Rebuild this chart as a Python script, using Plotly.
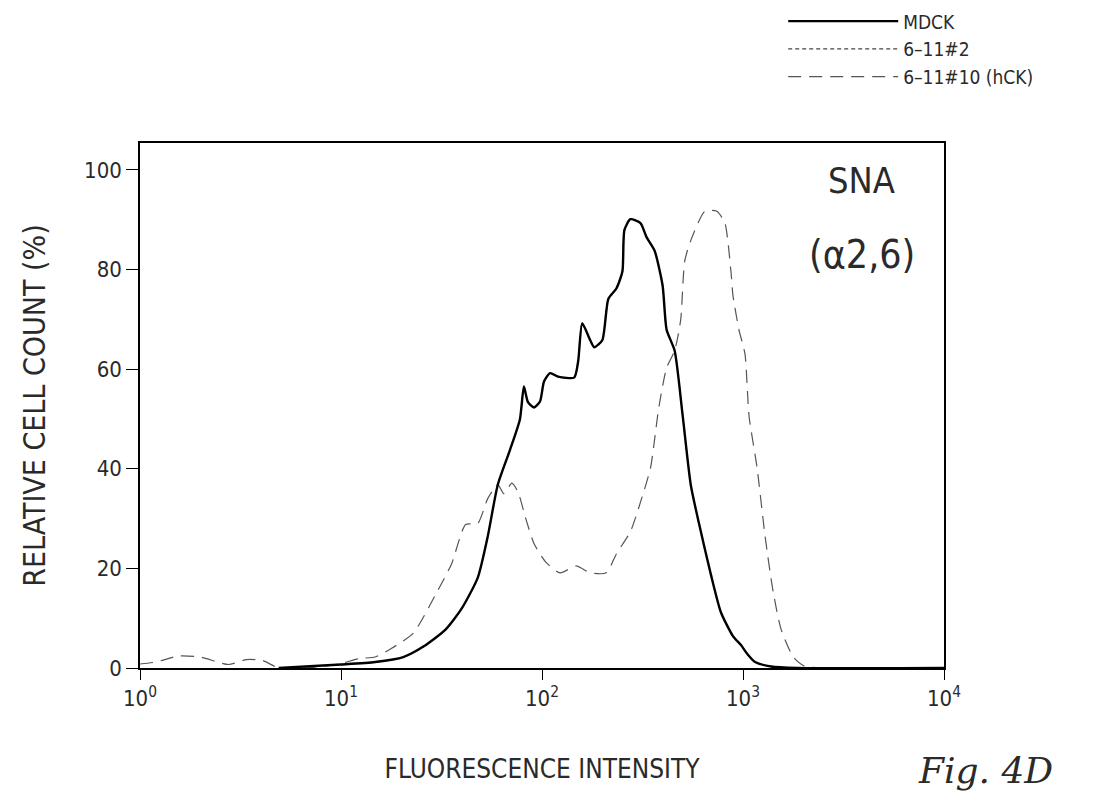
import plotly.graph_objects as go

# ---- data (log10 fluorescence intensity, relative cell count %) ----
mdck_log = [0.69, 1.00, 1.17, 1.31, 1.41, 1.52, 1.60, 1.68, 1.73, 1.78, 1.84, 1.89, 1.91, 1.93, 1.96,
            1.99, 2.01, 2.04, 2.08, 2.16, 2.18, 2.20, 2.24, 2.26, 2.30, 2.33, 2.37, 2.40, 2.41, 2.44,
            2.49, 2.52, 2.56, 2.60, 2.62, 2.66, 2.70, 2.74, 2.78, 2.84, 2.89, 2.95, 2.99, 3.02, 3.06,
            3.14, 3.27, 4.00]
mdck_val = [0.0, 0.7, 1.2, 2.2, 4.3, 7.7, 11.9, 18.1, 26.4, 36.8, 43.7, 49.9, 56.5, 53.4, 52.3,
            53.5, 57.5, 59.2, 58.5, 58.3, 61.6, 69.2, 65.8, 64.4, 65.8, 74.1, 76.2, 79.6, 87.9, 90.1,
            89.3, 86.5, 83.8, 76.8, 67.9, 63.7, 50.6, 36.8, 29.2, 18.8, 11.2, 6.4, 4.6, 2.9, 1.2,
            0.3, 0.0, 0.0]

c2_log = mdck_log
c2_val = [0.0, 0.7, 1.2, 2.2, 4.3, 7.7, 11.9, 18.1, 26.4, 36.8, 43.7, 49.9, 56.5, 53.4, 52.3,
          53.5, 57.5, 59.2, 58.5, 58.3, 61.6, 69.2, 65.8, 64.4, 65.8, 74.1, 76.2, 79.6, 87.9, 90.1,
          89.3, 86.5, 83.8, 76.8, 67.9, 63.7, 50.6, 36.8, 29.2, 18.8, 11.2, 6.4, 4.6, 2.9, 1.2,
          0.3, 0.0, 0.0]

hck_log = [0.00, 0.08, 0.19, 0.30, 0.44, 0.53, 0.61, 0.69, 0.85, 0.99, 1.09, 1.17, 1.25, 1.36, 1.47,
           1.55, 1.62, 1.68, 1.73, 1.78, 1.81, 1.85, 1.88, 1.92, 1.96, 2.02, 2.09, 2.17, 2.24, 2.32,
           2.37, 2.44, 2.49, 2.54, 2.58, 2.62, 2.66, 2.69, 2.71, 2.74, 2.81, 2.87, 2.91, 2.94, 2.95,
           2.98, 3.01, 3.03, 3.07, 3.11, 3.15, 3.19, 3.25, 3.30, 3.38, 4.00]
hck_val = [0.8, 1.2, 2.4, 2.2, 0.7, 1.7, 1.5, 0.0, 0.1, 0.8, 1.9, 2.2, 3.9, 7.0, 14.7,
           20.9, 28.8, 29.0, 34.0, 36.8, 35.0, 37.1, 35.4, 29.9, 25.0, 21.2, 19.1, 20.5, 19.1, 19.1,
           22.9, 27.4, 33.3, 40.2, 52.0, 60.3, 63.7, 69.9, 81.7, 85.8, 91.7, 91.7, 89.3, 79.6, 74.8,
           67.9, 63.0, 50.6, 40.2, 26.4, 15.3, 7.7, 2.2, 0.5, 0.0, 0.0]

x_tickvals = [1, 10, 100, 1000, 10000]
x_ticktext = ["10<sup>0</sup>", "10<sup>1</sup>", "10<sup>2</sup>", "10<sup>3</sup>", "10<sup>4</sup>"]
y_tickvals = [0, 20, 40, 60, 80, 100]

FONT = "DejaVu Sans Condensed, DejaVu Sans, sans-serif"
TXT = "#2a2a2a"

fig = go.Figure()
fig.add_trace(go.Scatter(x=[10 ** v for v in c2_log], y=c2_val, mode="lines", name="6–11#2",
                         legendrank=2,
                         line=dict(color="#444", width=1.2, dash="4px,3px", shape="spline", smoothing=0.6)))
fig.add_trace(go.Scatter(x=[10 ** v for v in hck_log], y=hck_val, mode="lines", name="6–11#10 (hCK)",
                         legendrank=3,
                         line=dict(color="#555", width=1.2, dash="13px,8px", shape="spline", smoothing=0.6)))
fig.add_trace(go.Scatter(x=[10 ** v for v in mdck_log], y=mdck_val, mode="lines", name="MDCK",
                         legendrank=1,
                         line=dict(color="black", width=2.4, shape="spline", smoothing=0.6)))

fig.update_layout(
    width=1094, height=797,
    margin=dict(l=140, r=150, t=143, b=129, autoexpand=False),
    paper_bgcolor="white", plot_bgcolor="white",
    font=dict(family=FONT, color=TXT, size=20),
    showlegend=True,
    legend=dict(x=0.80, y=1.268, xanchor="left", yanchor="top", bgcolor="rgba(0,0,0,0)",
                traceorder="normal", font=dict(size=19, family=FONT, color=TXT),
                itemwidth=110, tracegroupgap=0),
    xaxis=dict(type="log", range=[0, 4], tickvals=x_tickvals, ticktext=x_ticktext,
               showline=True, linecolor="black", linewidth=1.5, mirror=True,
               ticks="outside", ticklen=10, tickwidth=1.2, tickcolor="black",
               showgrid=False, zeroline=False,
               tickfont=dict(size=22, family=FONT, color=TXT),
               title=dict(text="FLUORESCENCE INTENSITY", standoff=50,
                          font=dict(size=26, family=FONT, color=TXT))),
    yaxis=dict(range=[0, 105.4], tickvals=y_tickvals,
               showline=True, linecolor="black", linewidth=1.5, mirror=True,
               ticks="outside", ticklen=12, tickwidth=1.2, tickcolor="black",
               showgrid=False, zeroline=False,
               tickfont=dict(size=22, family=FONT, color=TXT),
               title=dict(text="RELATIVE CELL COUNT (%)", standoff=30,
                          font=dict(size=30, family=FONT, color=TXT))),
)

fig.add_annotation(x=0.898, y=0.928, xref="paper", yref="paper", xanchor="center", yanchor="middle",
                   text="SNA", showarrow=False,
                   font=dict(size=36, family=FONT, color=TXT))
fig.add_annotation(x=0.898, y=0.788, xref="paper", yref="paper", xanchor="center", yanchor="middle",
                   text="(α2,6)", showarrow=False,
                   font=dict(size=39, family=FONT, color=TXT))
fig.add_annotation(x=1.052, y=-0.196, xref="paper", yref="paper", xanchor="center", yanchor="middle",
                   text="<i>Fig. 4D</i>", showarrow=False,
                   font=dict(size=36, family="DejaVu Serif, serif", color=TXT))

fig.write_html("out.html")
